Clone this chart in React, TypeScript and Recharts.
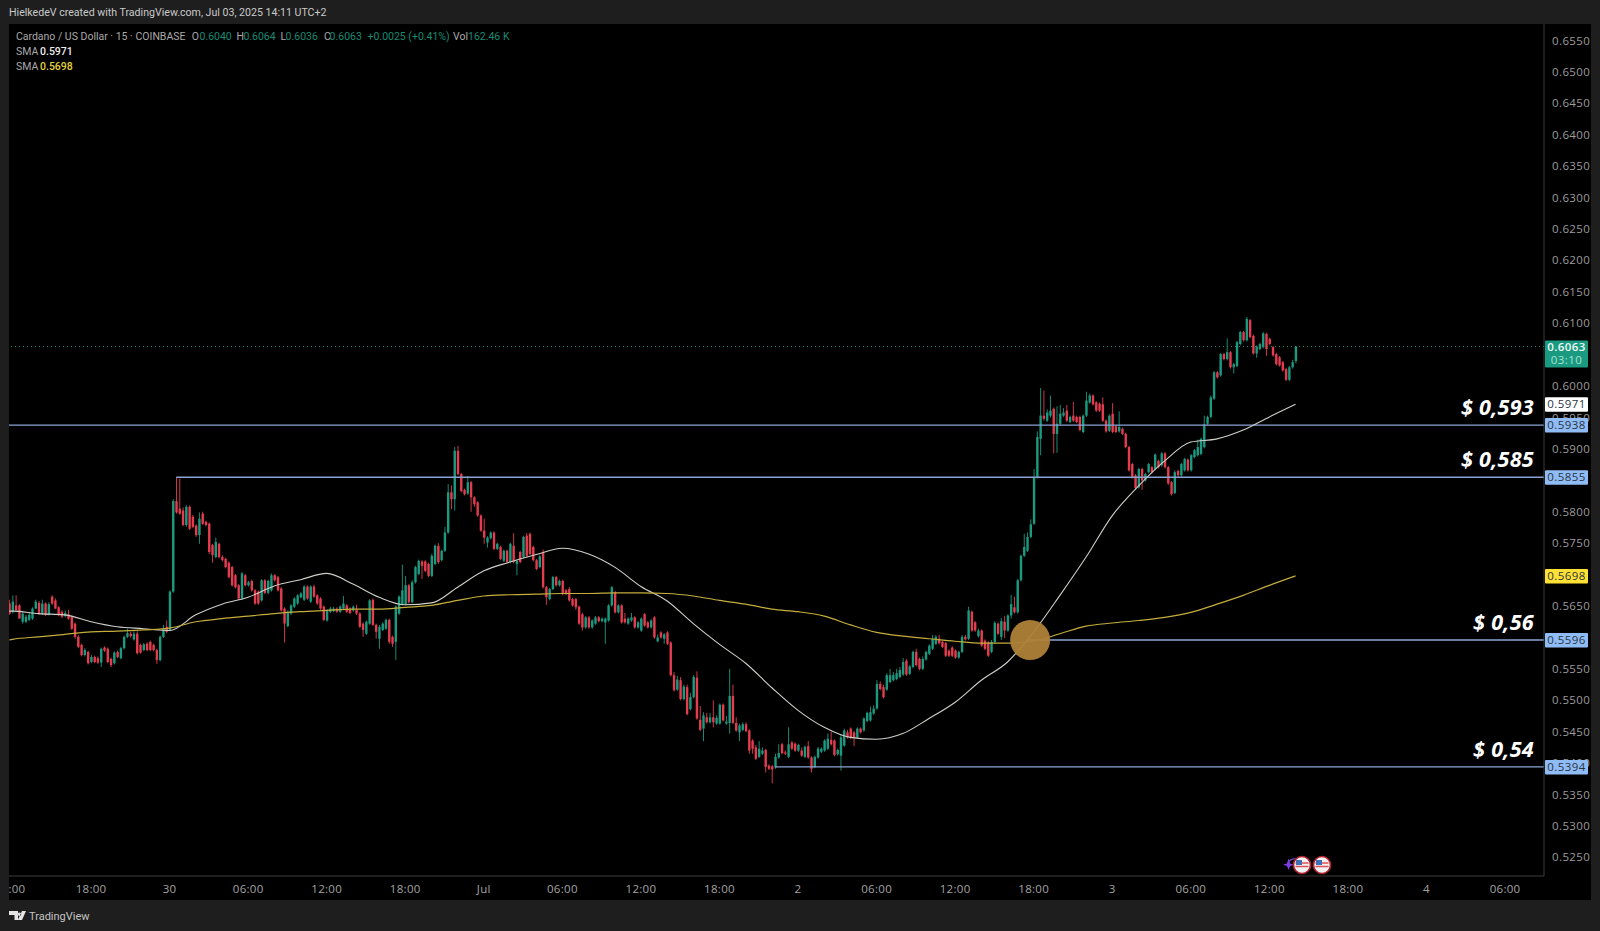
import {
  Bar,
  ComposedChart,
  Line,
  ReferenceDot,
  ReferenceLine,
  XAxis,
  YAxis,
} from 'recharts';

// 15 minute candles, prices in 1/10000 of a dollar.
// The first candle sits half cut off at the left edge (index -1).
const opens = [
  5654,
  5641,5651,5651,5625,5625,5628,5630,5646,5655,5638,
  5654,5636,5665,5659,5648,5641,5634,5637,5633,5622,
  5601,5588,5572,5577,5561,5569,5567,5560,5584,5582,
  5566,5559,5577,5567,5583,5601,5606,5597,5606,5588,
  5580,5590,5593,5588,5580,5564,5601,5617,5612,5673,
  5817,5805,5802,5779,5808,5792,5778,5763,5797,5784,
  5781,5747,5728,5749,5728,5725,5719,5712,5699,5683,
  5662,5699,5683,5690,5675,5673,5659,5691,5671,5675,
  5699,5696,5678,5646,5618,5638,5649,5654,5664,5660,
  5681,5657,5681,5667,5662,5649,5627,5641,5642,5646,
  5641,5646,5651,5646,5643,5644,5638,5622,5606,5622,
  5660,5620,5598,5612,5614,5628,5601,5593,5638,5653,
  5653,5683,5656,5688,5701,5721,5721,5717,5698,5717,
  5746,5723,5738,5767,5831,5820,5897,5860,5835,5829,
  5847,5823,5815,5794,5770,5751,5758,5767,5741,5744,
  5722,5738,5720,5746,5717,5736,5728,5762,5765,5744,
  5723,5712,5735,5680,5661,5677,5696,5683,5690,5675,
  5677,5661,5661,5649,5637,5616,5632,5616,5622,5632,
  5626,5624,5627,5651,5672,5640,5651,5630,5622,5627,
  5632,5616,5611,5637,5624,5616,5632,5594,5608,5598,
  5608,5592,5540,5517,5532,5502,5521,5486,5505,5536,
  5469,5455,5473,5465,5473,5463,5463,5493,5463,5464,
  5507,5464,5449,5453,5462,5452,5436,5425,5410,5415,
  5421,5396,5395,5393,5409,5430,5417,5410,5433,5431,
  5420,5420,5410,5427,5409,5394,5409,5418,5420,5423,
  5437,5436,5414,5412,5428,5449,5455,5449,5441,5455,
  5452,5467,5468,5479,5487,5526,5521,5517,5529,5532,
  5534,5537,5541,5563,5542,5553,5577,5566,5550,5565,
  5574,5582,5590,5598,5593,5591,5579,5584,5579,5568,
  5577,5601,5598,5641,5624,5602,5611,5595,5592,5577,
  5593,5622,5601,5625,5611,5635,5648,5640,5691,5730,
  5738,5760,5781,5855,5916,5953,5945,5953,5964,5924,
  5940,5953,5961,5943,5953,5951,5951,5927,5953,5974,
  5985,5974,5972,5971,5945,5929,5956,5936,5928,5932,
  5924,5903,5876,5858,5839,5868,5850,5863,5871,5868,
  5881,5874,5893,5871,5847,5830,5865,5858,5866,5883,
  5866,5887,5890,5892,5903,5940,5951,5980,6022,6017,
  6051,6043,6054,6030,6032,6067,6086,6073,6105,6080,
  6052,6059,6062,6083,6075,6062,6051,6046,6038,6027,
  6010,6030,6040,
];

const highs = [
  5660,
  5667,5667,5653,5640,5636,5640,5648,5660,5658,5660,
  5656,5656,5667,5662,5650,5643,5643,5644,5635,5624,
  5604,5590,5583,5579,5572,5571,5570,5584,5586,5584,
  5568,5578,5579,5585,5603,5614,5609,5610,5610,5590,
  5591,5592,5595,5590,5582,5603,5620,5627,5675,5820,
  5855,5853,5807,5811,5810,5795,5780,5799,5800,5786,
  5783,5749,5759,5751,5731,5727,5721,5714,5701,5685,
  5704,5701,5690,5692,5677,5675,5693,5693,5692,5702,
  5701,5698,5680,5648,5643,5653,5664,5669,5672,5683,
  5683,5683,5684,5669,5664,5651,5645,5649,5649,5648,
  5651,5666,5653,5648,5651,5652,5640,5624,5627,5661,
  5662,5622,5620,5624,5630,5630,5603,5651,5667,5716,
  5698,5685,5691,5714,5724,5723,5723,5719,5733,5748,
  5750,5740,5776,5844,5842,5903,5905,5862,5837,5857,
  5849,5825,5817,5796,5789,5761,5769,5769,5751,5746,
  5740,5740,5751,5766,5724,5738,5762,5766,5767,5746,
  5725,5731,5740,5682,5679,5698,5698,5692,5692,5677,
  5680,5663,5663,5651,5639,5634,5634,5629,5634,5634,
  5632,5632,5653,5682,5674,5653,5653,5639,5632,5639,
  5634,5626,5632,5639,5626,5629,5634,5605,5610,5607,
  5610,5594,5545,5539,5537,5525,5525,5512,5540,5546,
  5491,5481,5480,5480,5500,5476,5495,5495,5475,5550,
  5525,5473,5463,5465,5465,5454,5438,5429,5435,5425,
  5423,5398,5397,5415,5430,5432,5420,5457,5435,5433,
  5431,5425,5428,5435,5411,5412,5426,5425,5438,5447,
  5450,5438,5423,5445,5455,5453,5457,5451,5457,5457,
  5473,5482,5490,5492,5532,5530,5525,5543,5550,5545,
  5550,5553,5567,5566,5556,5579,5582,5568,5570,5579,
  5589,5604,5604,5604,5595,5593,5581,5586,5581,5579,
  5604,5604,5649,5643,5626,5614,5613,5597,5594,5596,
  5626,5624,5631,5634,5637,5668,5665,5693,5732,5765,
  5767,5788,5868,5928,5997,5993,5963,5985,5966,5968,
  5970,5965,5970,5953,5975,5953,5953,5955,5991,5988,
  5987,5976,5974,5982,5947,5955,5973,5938,5960,5934,
  5926,5905,5878,5860,5870,5870,5862,5878,5873,5893,
  5883,5895,5895,5873,5849,5866,5867,5878,5886,5885,
  5892,5900,5915,5918,5953,5953,5985,6024,6024,6053,
  6053,6076,6056,6037,6072,6088,6088,6110,6107,6082,
  6065,6069,6086,6085,6077,6064,6053,6048,6040,6029,
  6032,6042,6064,
];

const lows = [
  5636,
  5638,5643,5630,5622,5623,5626,5628,5645,5636,5636,
  5634,5635,5652,5645,5634,5631,5632,5628,5612,5598,
  5583,5570,5570,5557,5559,5559,5558,5553,5577,5559,
  5553,5557,5567,5565,5581,5599,5600,5595,5573,5574,
  5578,5578,5578,5578,5558,5562,5599,5607,5610,5671,
  5797,5795,5777,5776,5771,5774,5760,5749,5779,5777,
  5733,5719,5726,5726,5721,5710,5694,5681,5678,5660,
  5660,5681,5681,5673,5652,5652,5657,5669,5669,5673,
  5689,5673,5641,5592,5616,5636,5647,5652,5662,5658,
  5660,5655,5663,5652,5644,5626,5625,5639,5640,5639,
  5639,5644,5639,5637,5641,5636,5615,5601,5604,5620,
  5618,5598,5582,5610,5612,5590,5585,5564,5636,5651,
  5651,5654,5654,5686,5699,5693,5704,5696,5696,5715,
  5717,5721,5736,5765,5804,5802,5858,5831,5826,5827,
  5800,5808,5792,5768,5749,5743,5756,5739,5739,5723,
  5720,5718,5718,5718,5699,5718,5726,5728,5731,5721,
  5707,5710,5678,5652,5659,5675,5681,5681,5667,5667,
  5657,5649,5644,5620,5611,5614,5614,5614,5620,5624,
  5624,5590,5625,5649,5638,5638,5622,5622,5620,5625,
  5614,5614,5609,5617,5614,5614,5598,5592,5598,5590,
  5588,5538,5514,5515,5500,5500,5476,5484,5503,5469,
  5451,5435,5463,5463,5457,5461,5461,5466,5461,5447,
  5462,5450,5435,5451,5449,5415,5415,5405,5408,5413,
  5385,5389,5368,5391,5407,5414,5413,5408,5421,5418,
  5418,5410,5408,5407,5385,5392,5407,5416,5418,5421,
  5428,5411,5412,5388,5426,5439,5438,5427,5439,5447,
  5450,5465,5466,5477,5485,5516,5503,5515,5527,5530,
  5532,5535,5539,5539,5540,5551,5554,5548,5548,5563,
  5572,5580,5588,5589,5583,5569,5569,5569,5566,5566,
  5575,5595,5596,5609,5609,5600,5585,5580,5569,5575,
  5591,5604,5596,5599,5609,5630,5638,5638,5689,5728,
  5736,5758,5779,5853,5890,5945,5943,5950,5893,5894,
  5938,5951,5943,5941,5943,5941,5928,5925,5951,5972,
  5969,5959,5959,5943,5926,5927,5925,5925,5926,5922,
  5901,5864,5853,5836,5837,5835,5848,5861,5861,5866,
  5869,5872,5869,5843,5826,5828,5856,5856,5864,5864,
  5864,5885,5888,5890,5901,5938,5949,5978,6012,6015,
  6041,6041,6028,6020,6030,6065,6071,6071,6076,6050,
  6045,6057,6060,6048,6065,6047,6033,6031,6023,6008,
  6008,6028,6036,
];

const closes = [
  5638,
  5657,5643,5630,5638,5633,5636,5646,5657,5638,5654,
  5636,5653,5654,5646,5636,5633,5639,5630,5614,5601,
  5585,5572,5580,5559,5569,5561,5560,5582,5579,5561,
  5556,5576,5569,5583,5601,5607,5602,5606,5575,5576,
  5589,5580,5580,5580,5564,5601,5614,5609,5673,5817,
  5799,5797,5779,5808,5773,5776,5763,5789,5781,5779,
  5736,5731,5752,5728,5723,5712,5696,5683,5680,5662,
  5702,5683,5688,5675,5654,5654,5691,5671,5690,5699,
  5691,5675,5643,5622,5641,5651,5662,5667,5670,5681,
  5662,5681,5665,5654,5646,5628,5643,5646,5646,5641,
  5649,5654,5641,5639,5649,5638,5617,5612,5625,5659,
  5620,5609,5617,5622,5628,5593,5590,5649,5665,5675,
  5683,5656,5688,5712,5722,5714,5706,5698,5730,5746,
  5720,5738,5767,5831,5820,5897,5860,5833,5828,5847,
  5823,5812,5794,5770,5759,5759,5767,5741,5749,5725,
  5738,5720,5749,5720,5722,5720,5760,5730,5733,5723,
  5709,5729,5680,5664,5677,5696,5683,5690,5669,5669,
  5659,5651,5648,5622,5616,5632,5616,5627,5632,5626,
  5630,5630,5651,5680,5640,5651,5624,5624,5630,5632,
  5616,5624,5630,5619,5616,5627,5600,5600,5600,5605,
  5590,5540,5516,5533,5502,5522,5478,5505,5537,5471,
  5453,5476,5465,5473,5465,5472,5493,5468,5466,5507,
  5464,5452,5460,5462,5451,5420,5423,5407,5423,5420,
  5394,5391,5390,5410,5416,5416,5415,5430,5423,5420,
  5429,5412,5426,5409,5391,5410,5423,5423,5436,5439,
  5430,5413,5421,5441,5452,5441,5440,5440,5455,5449,
  5471,5480,5481,5487,5526,5518,5505,5540,5540,5540,
  5543,5548,5561,5541,5554,5577,5556,5550,5566,5577,
  5587,5598,5601,5591,5585,5571,5571,5571,5568,5577,
  5601,5597,5643,5611,5611,5611,5587,5582,5571,5593,
  5623,5606,5626,5611,5635,5653,5640,5691,5730,5744,
  5760,5780,5855,5919,5953,5948,5958,5961,5924,5940,
  5956,5958,5945,5951,5945,5943,5930,5953,5977,5985,
  5971,5961,5961,5945,5928,5953,5927,5927,5935,5924,
  5903,5866,5855,5838,5868,5850,5860,5876,5863,5891,
  5871,5893,5871,5845,5828,5863,5858,5876,5884,5866,
  5890,5898,5903,5916,5939,5951,5982,6022,6014,6051,
  6043,6054,6030,6035,6070,6086,6073,6107,6078,6052,
  6063,6067,6084,6059,6067,6049,6035,6033,6025,6010,
  6030,6038,6063,
];

// moving averages, read every 8th candle starting at index 0
const SMA_STEP = 8;
const FAST_AT_EDGE = 5642;
const SLOW_AT_EDGE = 5596;
const smaFast = [
  5642,5638,5636,5625,5617,5614,5611,5636,5653,5664,
  5682,5692,5702,5685,5664,5652,5655,5680,5706,5720,
  5732,5742,5733,5712,5681,5658,5622,5589,5559,5520,
  5484,5457,5441,5438,5447,5471,5497,5532,5561,5609,
  5667,5728,5794,5841,5881,5911,5916,5930,5951,5971,
];
const smaSlow = [
  5597,5601,5605,5609,5610,5612,5615,5625,5630,5634,
  5638,5641,5643,5645,5645,5648,5651,5659,5666,5668,
  5669,5670,5670,5671,5671,5670,5666,5659,5653,5645,
  5641,5634,5620,5608,5602,5598,5594,5591,5591,5594,
  5606,5618,5623,5627,5632,5640,5653,5667,5683,5698,
];

// 0.605, 0.585, 0.57 and 0.56 sit completely behind the price tags
const yTicks = [
  0.655, 0.65, 0.645, 0.64, 0.635, 0.63, 0.625, 0.62, 0.615, 0.61, 0.6, 0.595, 0.59,
  0.58, 0.575, 0.565, 0.555, 0.55, 0.545, 0.54, 0.535, 0.53, 0.525,
];
const LAST_PRICE = 0.6063;
const COUNTDOWN = '03:10';
const FAST_TAG = 0.5971;
const SLOW_TAG = 0.5698;

const levelPrices = [0.5938, 0.5855, 0.5596, 0.5394];
const levelStarts = [-2, 50, 310, 233];
const levelLabels = ['$ 0,593', '$ 0,585', '$ 0,56', '$ 0,54'];

const xTicks = [0, 24, 48, 72, 96, 120, 144, 168, 192, 216, 240, 264, 288, 312, 336, 360, 384, 408, 432, 456];
const xLabels = [':00', '18:00', '30', '06:00', '12:00', '18:00', 'Jul', '06:00', '12:00', '18:00', '2', '06:00', '12:00', '18:00', '3', '06:00', '12:00', '18:00', '4', '06:00'];

const CROSS_INDEX = 310.9;
const CROSS_PRICE = 0.5596;

const GREEN = '#1b9a80';
const RED = '#e43d50';
const AXIS_FONT = '"Open Sans", sans-serif';
const TEXT_FONT = 'Roboto, sans-serif';

const rows: any[] = opens.map((o, n) => ({
  i: n - 1,
  open: o / 10000,
  high: highs[n] / 10000,
  low: lows[n] / 10000,
  close: closes[n] / 10000,
  range: [lows[n] / 10000, highs[n] / 10000],
}));
rows[0].fast = FAST_AT_EDGE / 10000;
rows[0].slow = SLOW_AT_EDGE / 10000;
smaFast.forEach((v, k) => { rows[k * SMA_STEP + 1].fast = v / 10000; });
smaSlow.forEach((v, k) => { rows[k * SMA_STEP + 1].slow = v / 10000; });

function Candle(props: any) {
  const { x, y, width, height, payload } = props;
  const k = height / (payload.high - payload.low);
  const up = payload.close >= payload.open;
  const top = y + (payload.high - Math.max(payload.open, payload.close)) * k;
  const bodyH = Math.max(Math.abs(payload.close - payload.open) * k, 1);
  const color = up ? GREEN : RED;
  return (
    <g>
      <line x1={x + width / 2} x2={x + width / 2} y1={y} y2={y + height} stroke={color} strokeWidth={0.9} />
      <rect x={x - 0.2} y={top} width={width + 0.4} height={bodyH} fill={color} />
    </g>
  );
}

function PriceTick(props: any) {
  const { y, payload } = props;
  const v = payload.value;
  const left = 1545;
  const text = v.toFixed(4);
  const common = { fontFamily: AXIS_FONT, fontSize: 11.5, letterSpacing: 0.4 };
  if (v === LAST_PRICE) {
    return (
      <g>
        <rect x={left} y={y - 6} width={43} height={27} fill="#1a9a80" rx={1} />
        <text x={left + 21.5} y={y + 4} textAnchor="middle" fill="#eef8f5" fontWeight={600} {...common}>{text}</text>
        <text x={left + 21.5} y={y + 17} textAnchor="middle" fill="#a8e0d4" {...common}>{COUNTDOWN}</text>
      </g>
    );
  }
  let fill = '';
  if (v === FAST_TAG) fill = '#ffffff';
  else if (v === SLOW_TAG) fill = '#ffe135';
  else if (levelPrices.includes(v)) fill = '#8fbcf5';
  if (fill) {
    return (
      <g>
        <rect x={left} y={y - 7} width={43} height={14.5} fill={fill} rx={1} />
        <text x={left + 21.5} y={y + 4} textAnchor="middle" fill="#2a3442" {...common}>{text}</text>
      </g>
    );
  }
  return <text x={left + 7} y={y + 4} fill="#9c9c9c" {...common}>{text}</text>;
}

function TimeTick(props: any) {
  const { x, y, payload } = props;
  const label = xLabels[xTicks.indexOf(payload.value)];
  const clipped = label === ':00';
  return (
    <text
      x={clipped ? x + 13 : x}
      y={y + 9}
      textAnchor={clipped ? 'end' : 'middle'}
      fill="#a4a4a4"
      fontFamily={AXIS_FONT}
      fontSize={11.5}
      letterSpacing={0.3}
    >
      {label}
    </text>
  );
}

function LevelLabel(props: any) {
  const { viewBox, text } = props;
  return (
    <text
      x={viewBox.x + viewBox.width - 10}
      y={viewBox.y - 10}
      textAnchor="end"
      fill="#ffffff"
      fontFamily={AXIS_FONT}
      fontSize={21.5}
      fontWeight={700}
      fontStyle="italic"
      letterSpacing={0.3}
    >
      {text}
    </text>
  );
}

function Txt({ x, y, color, bold, size, children }: any) {
  return (
    <span
      style={{
        position: 'absolute',
        left: x,
        top: y - 8,
        lineHeight: '16px',
        color,
        fontFamily: TEXT_FONT,
        fontSize: size ?? 10.5,
        fontWeight: bold ? 500 : 400,
        whiteSpace: 'nowrap',
      }}
    >
      {children}
    </span>
  );
}

function Flag({ cx }: { cx: number }) {
  return (
    <g>
      <circle cx={cx} cy={865} r={8.5} fill="#f2f2f2" stroke="#b3202c" strokeWidth={1.6} />
      <path d={`M${cx - 6.5} ${863}h13M${cx - 6.5} ${866.5}h13`} stroke="#e0505a" strokeWidth={1.6} />
      <rect x={cx - 6} y={860} width={6} height={5} fill="#3f6fb5" />
    </g>
  );
}

export default function App() {
  const legend = '#a9a9a9';
  const val = '#1a8a72';
  return (
    <div style={{ position: 'absolute', left: 0, top: 0, width: 1600, height: 931, background: '#1e1e1e', overflow: 'hidden' }}>
      <div style={{ position: 'absolute', left: 9, top: 24, width: 1582, height: 876, background: '#000' }} />
      <div style={{ position: 'absolute', left: 0, top: 0 }}>
        <ComposedChart
          width={1600}
          height={931}
          data={rows}
          margin={{ top: 24, right: 9, bottom: 31, left: 9 }}
        >
          <XAxis
            dataKey="i"
            type="number"
            domain={[-1.07, 467.9]}
            allowDataOverflow
            ticks={xTicks}
            interval={0}
            height={24}
            tickLine={false}
            stroke="#3c3c3c"
            tick={<TimeTick />}
          />
          <YAxis
            orientation="right"
            type="number"
            domain={[0.52204, 0.65763]}
            allowDataOverflow
            ticks={[...yTicks, FAST_TAG, SLOW_TAG, ...levelPrices, LAST_PRICE]}
            interval={0}
            width={47}
            tickLine={false}
            stroke="#3c3c3c"
            tick={<PriceTick />}
          />
          <ReferenceDot x={CROSS_INDEX} y={CROSS_PRICE} r={20} fill="#ad8138" fillOpacity={0.95} stroke="none" />
          <ReferenceLine y={LAST_PRICE} stroke="#1a8a72" strokeDasharray="1 3" strokeWidth={1} />
          {levelPrices.map((p, n) => (
            <ReferenceLine
              key={p}
              segment={[{ x: levelStarts[n], y: p }, { x: 467.9, y: p }]}
              ifOverflow="hidden"
              stroke="#8aa3d4"
              strokeWidth={1.4}
              label={<LevelLabel text={levelLabels[n]} />}
            />
          ))}
          <Bar dataKey="range" barSize={2} shape={<Candle />} isAnimationActive={false} />
          <Line dataKey="fast" type="monotone" connectNulls stroke="#cfcfc8" strokeWidth={1.1} dot={false} isAnimationActive={false} />
          <Line dataKey="slow" type="monotone" connectNulls stroke="#c4ad3c" strokeWidth={1.2} dot={false} isAnimationActive={false} />
        </ComposedChart>
      </div>

      <Txt x={9} y={13} color="#c9c9c9" size={10.6}>HielkedeV created with TradingView.com, Jul 03, 2025 14:11 UTC+2</Txt>

      <Txt x={15.9} y={37} color={legend}>Cardano / US Dollar · 15 · COINBASE</Txt>
      <Txt x={191.7} y={37} color={legend}>O</Txt>
      <Txt x={199.5} y={37} color={val}>0.6040</Txt>
      <Txt x={236.6} y={37} color={legend}>H</Txt>
      <Txt x={243.4} y={37} color={val}>0.6064</Txt>
      <Txt x={280.6} y={37} color={legend}>L</Txt>
      <Txt x={285.6} y={37} color={val}>0.6036</Txt>
      <Txt x={323.9} y={37} color={legend}>C</Txt>
      <Txt x={329.6} y={37} color={val}>0.6063</Txt>
      <Txt x={367.5} y={37} color={val}>+0.0025 (+0.41%)</Txt>
      <Txt x={453} y={37} color={legend}>Vol</Txt>
      <Txt x={468} y={37} color={val}>162.46 K</Txt>

      <Txt x={15.9} y={52.4} color={legend}>SMA</Txt>
      <Txt x={40} y={52.4} color="#ececec" bold>0.5971</Txt>
      <Txt x={15.9} y={66.6} color={legend}>SMA</Txt>
      <Txt x={40} y={66.6} color="#e6d23c" bold>0.5698</Txt>

      <Txt x={29} y={916.5} color="#c4c4c4" size={11}>TradingView</Txt>

      <svg width={1600} height={931} style={{ position: 'absolute', left: 0, top: 0, pointerEvents: 'none' }}>
        <path d="M9 911h9v9h-3.5v-5H9zM19.5 912.5a1.7 1.7 0 1 0 .01 0zM22 911h4l-4 9h-4.2z" fill="#e4e4e4" />
        <path d="M1296 859a8 8 0 0 0-8 4" fill="none" stroke="#7a3fc4" strokeWidth={1.4} />
        <path d="M1287 865l1.6-5 1.6 5 4 1.2-4 1.2-1.6 4-1.6-4-4-1.2z" fill="#7a3fe0" transform="translate(0 -1.5)" />
        <Flag cx={1302} />
        <Flag cx={1322} />
      </svg>
    </div>
  );
}
